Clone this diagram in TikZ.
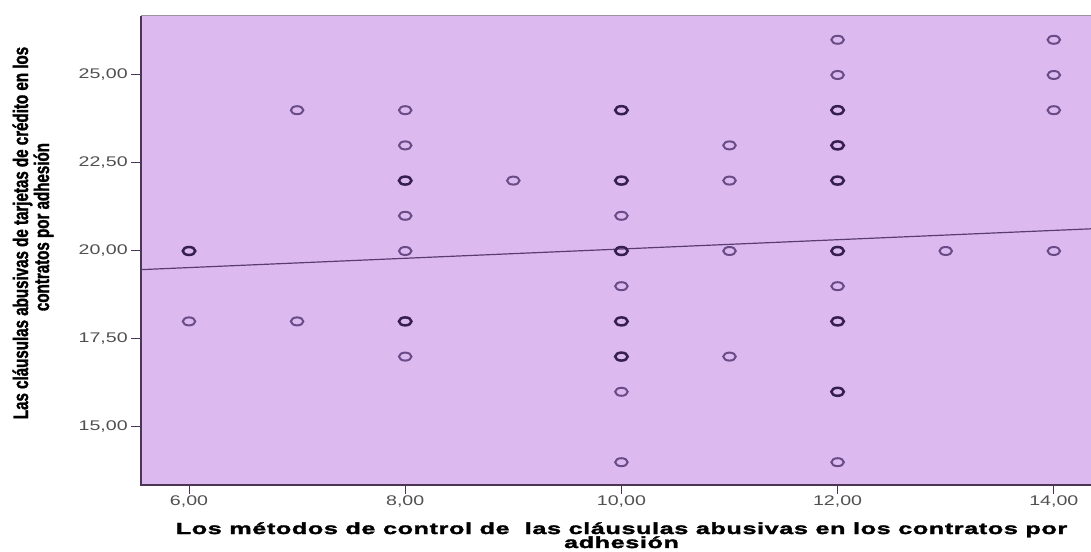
\documentclass[tikz,border=0pt]{standalone}
\usepackage{fontspec}
\setmainfont{Liberation Sans}
\newfontfamily\tickfont{Liberation Sans}[FakeStretch=1.4]
\newfontfamily\xlabfont{Liberation Sans}[FakeStretch=1.57, LetterSpace=4, FakeBold=2]
\newfontfamily\ylabfont{Liberation Sans}[FakeStretch=0.72, FakeBold=1.5]
\usetikzlibrary{shapes.geometric}
\definecolor{plotbg}{RGB}{220,186,240}
\definecolor{dotc}{RGB}{105,75,135}
\definecolor{dotdark}{RGB}{55,30,80}
\definecolor{framec}{RGB}{75,55,85}
\definecolor{fitc}{RGB}{90,60,115}
\definecolor{tickc}{RGB}{80,80,80}
\tikzset{
  dot/.style={ellipse, draw=dotc, line width=2pt, minimum width=12.5pt, minimum height=8pt, inner sep=0pt},
  dotbold/.style={dot, draw=dotdark, line width=2.5pt},
  ticklab/.style={font=\tickfont\fontsize{14}{16}\selectfont, text=tickc, inner sep=0pt},
  xlab/.style={font=\xlabfont\bfseries\fontsize{16}{14}\selectfont, inner sep=0pt, anchor=base},
  ylab/.style={font=\ylabfont\bfseries\fontsize{21}{21}\selectfont, inner sep=0pt, anchor=base, rotate=90}
}

\begin{document}
\begin{tikzpicture}[x=108.1pt, y=35.2pt]
\useasboundingbox (4.2516,11.4773) rectangle (14.3441,27.1307);
\fill[plotbg] (5.556,13.3523) rectangle (14.3441,26.676);
\draw[framec!55, line width=1pt] (5.556,26.676) -- (14.3441,26.676);
\draw[framec, line width=1.6pt] (14.3441,13.3523) -- (5.556,13.3523) -- (5.556,26.676);

\foreach \v/\t [count=\i] in {15/{15,00},17.5/{17,50},20/{20,00},22.5/{22,50},25/{25,00}} {
  \draw[framec, line width=1pt] (5.4635,\v) -- (5.556,\v);
  \node[ticklab, anchor=east] (ytick\i) at (5.435,\v) {\t};
}
\foreach \v in {6,8,...,14} {
  \draw[framec, line width=1pt] (\v,13.3523) -- (\v,13.097);
  \node[ticklab, anchor=north] (xtick\v) at (\v,13.04) {\v,00};
}

\coordinate (fitL) at (5.556,19.47);
\coordinate (fitR) at (14.3441,20.63);
\draw[fitc, line width=1.2pt] (fitL) -- (fitR);

\foreach \px/\py in {6/18,7/24,7/18,8/24,8/23,8/21,8/20,8/17,9/22,10/21,10/19,10/16,10/14,
  11/23,11/22,11/20,11/17,12/26,12/25,12/19,12/14,13/20,14/26,14/25,14/24,14/20}
  \node[dot] (d\px-\py) at (\px,\py) {};
\foreach \px/\py in {6/20,8/22,8/18,10/24,10/22,10/20,10/18,10/17,12/24,12/23,12/22,12/20,12/18,12/16}
  \node[dotbold] (d\px-\py) at (\px,\py) {};

\node[xlab] (xlab1) at (10.001,11.96) {Los métodos de control de\ \ las cláusulas abusivas en los contratos por};
\node[xlab] (xlab2) at (10.001,11.5625) {adhesión};
\node[ylab] (ylab1) at (4.5106,20.511) {Las cláusulas abusivas de tarjetas de crédito en los};
\node[ylab] (ylab2) at (4.7049,20.68) {contratos por adhesión};
\end{tikzpicture}
\end{document}
